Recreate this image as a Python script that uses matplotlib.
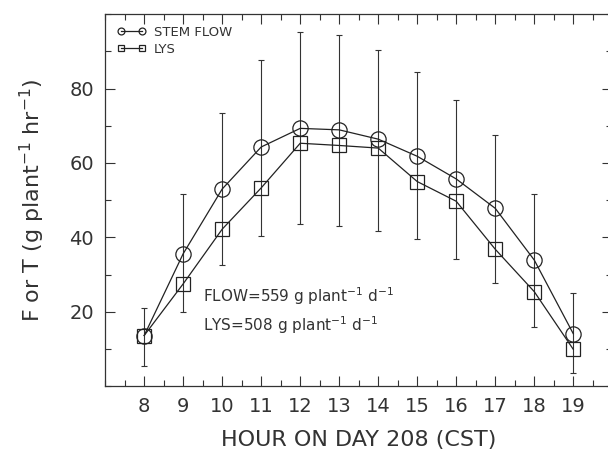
import numpy as np
import matplotlib
matplotlib.use("Agg")
import matplotlib.pyplot as plt
from matplotlib.ticker import MultipleLocator

# hour of day
hours = [8, 9, 10, 11, 12, 13, 14, 15, 16, 17, 18, 19]

# sap flow (stem flow gauges) and lysimeter transpiration, g plant-1 hr-1
stem_flow = [13.6, 35.6, 53.0, 64.3, 69.3, 68.9, 66.4, 61.8, 55.7, 47.8, 33.9, 14.1]
lys = [13.6, 27.5, 42.2, 53.3, 65.3, 64.7, 64.0, 55.0, 49.7, 36.8, 25.4, 9.9]

# error bar ends
err_low = [5.5, 19.9, 32.5, 40.4, 43.5, 43.0, 41.7, 39.5, 34.1, 27.7, 16.0, 3.4]
err_high = [21.0, 51.7, 73.3, 87.6, 95.2, 94.5, 90.3, 84.5, 76.9, 67.6, 51.7, 24.9]

plt.rcParams['font.family'] = ['DejaVu Sans']

fig = plt.figure(figsize=(6.08, 4.58), dpi=100)
ax = fig.add_axes([0.173, 0.157, 0.834, 0.812])

sf = np.array(stem_flow)
lo = sf - np.array(err_low)
hi = np.array(err_high) - sf
ax.errorbar(hours, sf, yerr=[lo, hi], fmt='none', ecolor='#333333',
            elinewidth=0.8, capsize=2.5, capthick=0.8)

ax.plot(hours, stem_flow, '-', color='#222222', lw=0.9, marker='o', ms=11,
        mfc='none', mec='#222222', mew=0.9, label='STEM FLOW')
ax.plot(hours, lys, '-', color='#222222', lw=0.9, marker='s', ms=10,
        mfc='none', mec='#222222', mew=0.9, label='LYS')

ax.set_xlim(7, 20)
ax.set_ylim(0, 100)
ax.set_xticks(hours)
ax.xaxis.set_minor_locator(MultipleLocator(0.5))
ax.set_yticks([20, 40, 60, 80])
ax.yaxis.set_minor_locator(MultipleLocator(10))
ax.tick_params(which='both', direction='in', top=True, right=True,
               width=0.8, color='#333333')
ax.tick_params(which='major', length=7, labelsize=14, pad=8, labelcolor='#333333')
ax.tick_params(which='minor', length=4)
for s in ax.spines.values():
    s.set_linewidth(0.9)
    s.set_color('#333333')
ax.spines['right'].set_visible(False)

ax.set_xlabel('HOUR ON DAY 208 (CST)', fontsize=16, labelpad=10, color='#333333')
ax.set_ylabel('F or T (g plant$^{-1}$ hr$^{-1}$)', fontsize=16, labelpad=16,
              color='#333333')

ax.text(9.5, 24.3, 'FLOW=559 g plant$^{-1}$ d$^{-1}$', fontsize=11, color='#333333',
        va='center')
ax.text(9.5, 16.3, 'LYS=508 g plant$^{-1}$ d$^{-1}$', fontsize=11, color='#333333',
        va='center')

leg = ax.legend(loc='upper left', frameon=False, numpoints=2, markerscale=0.45,
                fontsize=9.5, handlelength=2.2, handletextpad=0.6,
                labelspacing=0.3, borderaxespad=0.5)
for t in leg.get_texts():
    t.set_color('#333333')

fig.savefig('out.png', dpi=100)
